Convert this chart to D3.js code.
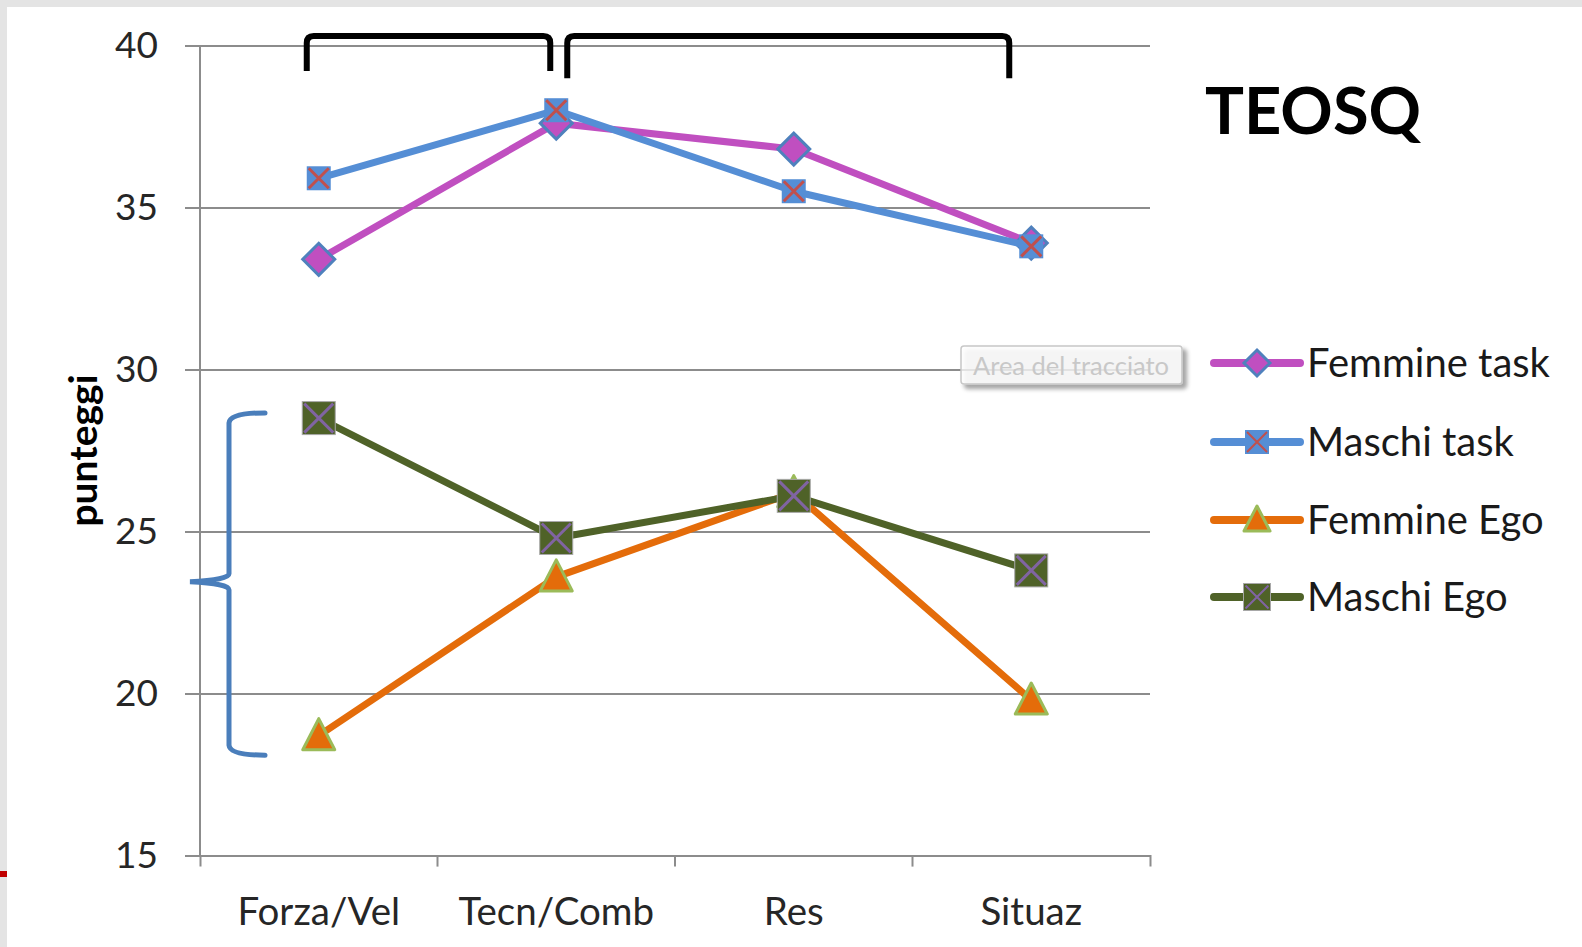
<!DOCTYPE html>
<html>
<head>
<meta charset="utf-8">
<script src="https://cdn.jsdelivr.net/npm/d3@7"></script>
<style>
  body { margin: 0; background: #e4e4e4; }
  svg { display: block; }
  text { font-family: Lato, 'Open Sans', sans-serif; }
</style>
</head>
<body>
<svg></svg>
<script>
// values
let categories = ['Forza/Vel', 'Tecn/Comb', 'Res', 'Situaz']
let seriesNames = ['Femmine task', 'Maschi task', 'Femmine Ego', 'Maschi Ego']
let femmineTask = [33.4, 37.6, 36.8, 33.9]
let maschiTask = [35.9, 38.0, 35.5, 33.8]
let femmineEgo = [18.7, 23.6, 26.2, 19.8]
let maschiEgo = [28.5, 24.8, 26.1, 23.8]
let yTicks = [15, 20, 25, 30, 35, 40]
let title = 'TEOSQ'
let yTitle = 'punteggi'
let hoverLabel = 'Area del tracciato'

let width = 1582
let height = 947

let series = [
  { name: seriesNames[0], values: femmineTask, color: '#c04fc0', marker: 'diamond', fill: '#c04fc0', edge: '#4f81bd' },
  { name: seriesNames[1], values: maschiTask, color: '#558ed5', marker: 'squareX', fill: '#558ed5', edge: '#c0504d' },
  { name: seriesNames[2], values: femmineEgo, color: '#e46c0a', marker: 'triangle', fill: '#e46c0a', edge: '#9bbb59' },
  { name: seriesNames[3], values: maschiEgo, color: '#4f6228', marker: 'squareXBig', fill: '#4f6228', edge: '#8064a2' }
]

let svg = d3.select('svg')
            .attr('width', width)
            .attr('height', height)

let xScale = d3.scaleBand()
               .domain(categories)
               .range([200, 1150])

let yScale = d3.scaleLinear()
               .domain([15, 40])
               .range([855.6, 45.4])

let cx = (c) => xScale(c) + xScale.bandwidth() / 2

// page background
svg.append('rect')
   .attr('width', width).attr('height', height)
   .attr('fill', '#e4e4e4')
svg.append('rect')
   .attr('x', 7).attr('y', 7)
   .attr('width', width - 7).attr('height', height - 7)
   .attr('fill', '#ffffff')
svg.append('rect')
   .attr('x', 0).attr('y', 871)
   .attr('width', 7).attr('height', 6)
   .attr('fill', '#c00000')

// gridlines + y labels in one axis
let yAxis = d3.axisLeft(yScale)
              .tickValues(yTicks)
              .tickSize(965)
              .tickPadding(27)
              .tickFormat(d3.format('d'))

let yg = svg.append('g')
   .attr('transform', 'translate(1150, 0)')
   .call(yAxis)
yg.select('.domain').remove()
yg.selectAll('line').attr('stroke', '#8c8c8c').attr('stroke-width', 2)
yg.selectAll('text')
  .attr('font-size', 37)
  .attr('fill', '#262626')
  .attr('font-family', 'Lato')

svg.append('line')
   .attr('x1', 200).attr('x2', 200)
   .attr('y1', yScale(40)).attr('y2', yScale(15))
   .attr('stroke', '#8c8c8c').attr('stroke-width', 2)

// x axis
let xAxis = d3.axisBottom(xScale)
              .tickSizeInner(0)
              .tickSizeOuter(11)
              .tickPadding(42)

let xg = svg.append('g')
   .attr('transform', 'translate(0, ' + yScale(15) + ')')
   .call(xAxis)
xg.select('.domain').attr('stroke', '#8c8c8c').attr('stroke-width', 2)
xg.selectAll('text')
  .attr('font-size', 38.5)
  .attr('fill', '#262626')
  .attr('font-family', 'Lato')
xg.selectAll('.sep')
  .data(categories.slice(1))
  .enter()
  .append('line')
  .attr('x1', (c) => xScale(c)).attr('x2', (c) => xScale(c))
  .attr('y1', 0).attr('y2', 11)
  .attr('stroke', '#8c8c8c').attr('stroke-width', 2)

// y title
svg.append('text')
   .attr('transform', 'translate(97, ' + yScale(27.5) + ') rotate(-90)')
   .attr('text-anchor', 'middle')
   .attr('font-size', 39)
   .attr('font-weight', 'bold')
   .attr('fill', '#000')
   .text(yTitle)

// hover label left over from the editor
let defs = svg.append('defs')
defs.append('filter')
    .attr('id', 'shadow')
    .attr('x', '-10%').attr('y', '-20%').attr('width', '130%').attr('height', '160%')
    .append('feDropShadow')
    .attr('dx', 4).attr('dy', 4).attr('stdDeviation', 2)
    .attr('flood-color', '#000').attr('flood-opacity', 0.45)

svg.append('rect')
   .attr('x', 961).attr('y', 346)
   .attr('width', 221).attr('height', 38)
   .attr('rx', 3)
   .attr('fill', '#ffffff').attr('fill-opacity', 0.75)
   .attr('stroke', '#c8c8c8').attr('stroke-width', 1.5)
   .attr('filter', 'url(#shadow)')
svg.append('text')
   .attr('x', 1071).attr('y', 365)
   .attr('text-anchor', 'middle')
   .attr('dominant-baseline', 'central')
   .attr('font-size', 25.5)
   .attr('fill', '#c8c8c8')
   .text(hoverLabel)

// markers
let drawMarker = (g, s, big) => {
  if (s.marker === 'diamond') {
    let r = big ? 16 : 13
    g.append('path')
     .attr('d', `M0,${-r}L${r},0L0,${r}L${-r},0Z`)
     .attr('fill', s.fill).attr('stroke', s.edge).attr('stroke-width', 3)
  } else if (s.marker === 'triangle') {
    let w = big ? 16 : 13
    g.append('path')
     .attr('d', `M0,${-w - 1}L${w},${w - 2}L${-w},${w - 2}Z`)
     .attr('fill', s.fill).attr('stroke', s.edge).attr('stroke-width', 3)
     .attr('stroke-linejoin', 'round')
  } else {
    let h = s.marker === 'squareXBig' ? (big ? 16.5 : 13.5) : 12
    g.append('rect')
     .attr('x', -h).attr('y', -h).attr('width', 2 * h).attr('height', 2 * h)
     .attr('fill', s.fill)
     .attr('stroke', s.marker === 'squareXBig' ? '#a8a8a8' : 'none')
     .attr('stroke-width', 1)
    let k = h - 2
    g.append('path')
     .attr('d', `M${-k},${-k}L${k},${k}M${k},${-k}L${-k},${k}`)
     .attr('stroke', s.edge).attr('stroke-width', big ? 3 : 2)
  }
}

let line = d3.line()
             .x((d, i) => cx(categories[i]))
             .y((d) => yScale(d))

series.forEach((s) => {
  svg.append('path')
     .datum(s.values)
     .attr('d', line)
     .attr('fill', 'none')
     .attr('stroke', s.color)
     .attr('stroke-width', 7)
     .attr('stroke-linejoin', 'round')

  svg.selectAll(null)
     .data(s.values)
     .enter()
     .append('g')
     .attr('transform', (d, i) => 'translate(' + cx(categories[i]) + ',' + yScale(d) + ')')
     .each(function () { drawMarker(d3.select(this), s, true) })
})

// brackets on top and the brace on the left
let brackets = [
  { x1: cx(categories[0]) - 12, x2: cx(categories[1]) - 6, top: 40.29, end: 39.21 },
  { x1: cx(categories[1]) + 11, x2: cx(categories[3]) - 22, top: 40.29, end: 38.99 }
]
brackets.forEach((b) => {
  let t = yScale(b.top)
  let e = yScale(b.end)
  svg.append('path')
     .attr('d', `M${b.x1},${e}L${b.x1},${t + 7}Q${b.x1},${t} ${b.x1 + 7},${t}L${b.x2 - 7},${t}Q${b.x2},${t} ${b.x2},${t + 7}L${b.x2},${e}`)
     .attr('fill', 'none')
     .attr('stroke', '#000')
     .attr('stroke-width', 6)
})

let braceTop = yScale(28.66)
let braceMid = yScale(23.45)
let braceBot = yScale(18.1)
svg.append('path')
   .attr('d', `M265,${braceTop}Q230,${braceTop} 229,${braceTop + 10}L229,${braceMid - 8}Q229,${braceMid - 2} 190,${braceMid}Q229,${braceMid + 2} 229,${braceMid + 8}L229,${braceBot - 10}Q230,${braceBot} 265,${braceBot}`)
   .attr('fill', 'none')
   .attr('stroke', '#4a7ebb')
   .attr('stroke-width', 5)
   .attr('stroke-linecap', 'round')

// title
svg.append('text')
   .attr('x', 1205).attr('y', 134)
   .attr('font-size', 65)
   .attr('font-weight', 'bold')
   .attr('fill', '#000')
   .text(title)

// legend
let legendRows = [363, 442, 520, 597]
series.forEach((s, i) => {
  let g = svg.append('g')
             .attr('transform', 'translate(0, ' + legendRows[i] + ')')
  g.append('line')
   .attr('x1', 1214).attr('x2', 1300)
   .attr('stroke', s.color)
   .attr('stroke-width', 8)
   .attr('stroke-linecap', 'round')
  drawMarker(g.append('g').attr('transform', 'translate(1257, 0)'), s, false)
  g.append('text')
   .attr('x', 1307)
   .attr('dy', '0.36em')
   .attr('font-size', 40)
   .attr('fill', '#1a1a1a')
   .text(s.name)
})
</script>
</body>
</html>
